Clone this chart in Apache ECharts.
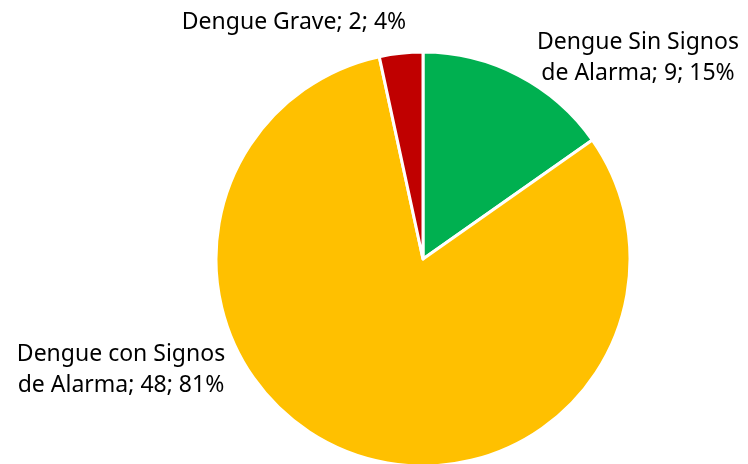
<!DOCTYPE html>
<html>
<head>
<meta charset="utf-8">
<script src="https://cdn.jsdelivr.net/npm/echarts@6/dist/echarts.min.js"></script>
<style>
  html, body { margin: 0; padding: 0; background: #fff; }
  #chart { width: 748px; height: 464px; }
</style>
</head>
<body>
<div id="chart"></div>
<script>
// Casos de dengue por clasificación
const categories = ['Dengue Sin Signos de Alarma', 'Dengue con Signos de Alarma', 'Dengue Grave'];
const values = [9, 48, 2];
const percents = [15, 81, 4];
const colors = ['#00B050', '#FFC000', '#C00000'];

// where each label block sits (centre point)
const labelSpots = [[638, 58], [121, 370], [294, 22]];

const chart = echarts.init(document.getElementById('chart'));

chart.setOption({
    animation: false,
    series: [
        {
            type: 'pie',
            center: [423, 259],
            radius: 207,
            startAngle: 90,
            clockwise: true,
            data: categories.map((name, i) => ({
                name: name,
                value: values[i],
                itemStyle: { color: colors[i] }
            })),
            itemStyle: {
                borderColor: '#fff',
                borderWidth: 3
            },
            label: {
                show: true,
                position: 'outside',
                fontFamily: 'Noto Sans',
                fontSize: 23,
                lineHeight: 31,
                color: '#000',
                align: 'center',
                overflow: 'none',
                width: 400,
                formatter: (p) => {
                    const txt = p.name + '; ' + p.value + '; ' + percents[p.dataIndex] + '%';
                    return txt.replace(' de ', '\nde ');
                }
            },
            labelLine: { show: false },
            labelLayout: (params) => {
                const spot = labelSpots[params.dataIndex];
                return {
                    x: spot[0],
                    y: spot[1],
                    align: 'center',
                    verticalAlign: 'middle'
                };
            }
        }
    ]
});

window.addEventListener('resize', () => chart.resize());
</script>
</body>
</html>
